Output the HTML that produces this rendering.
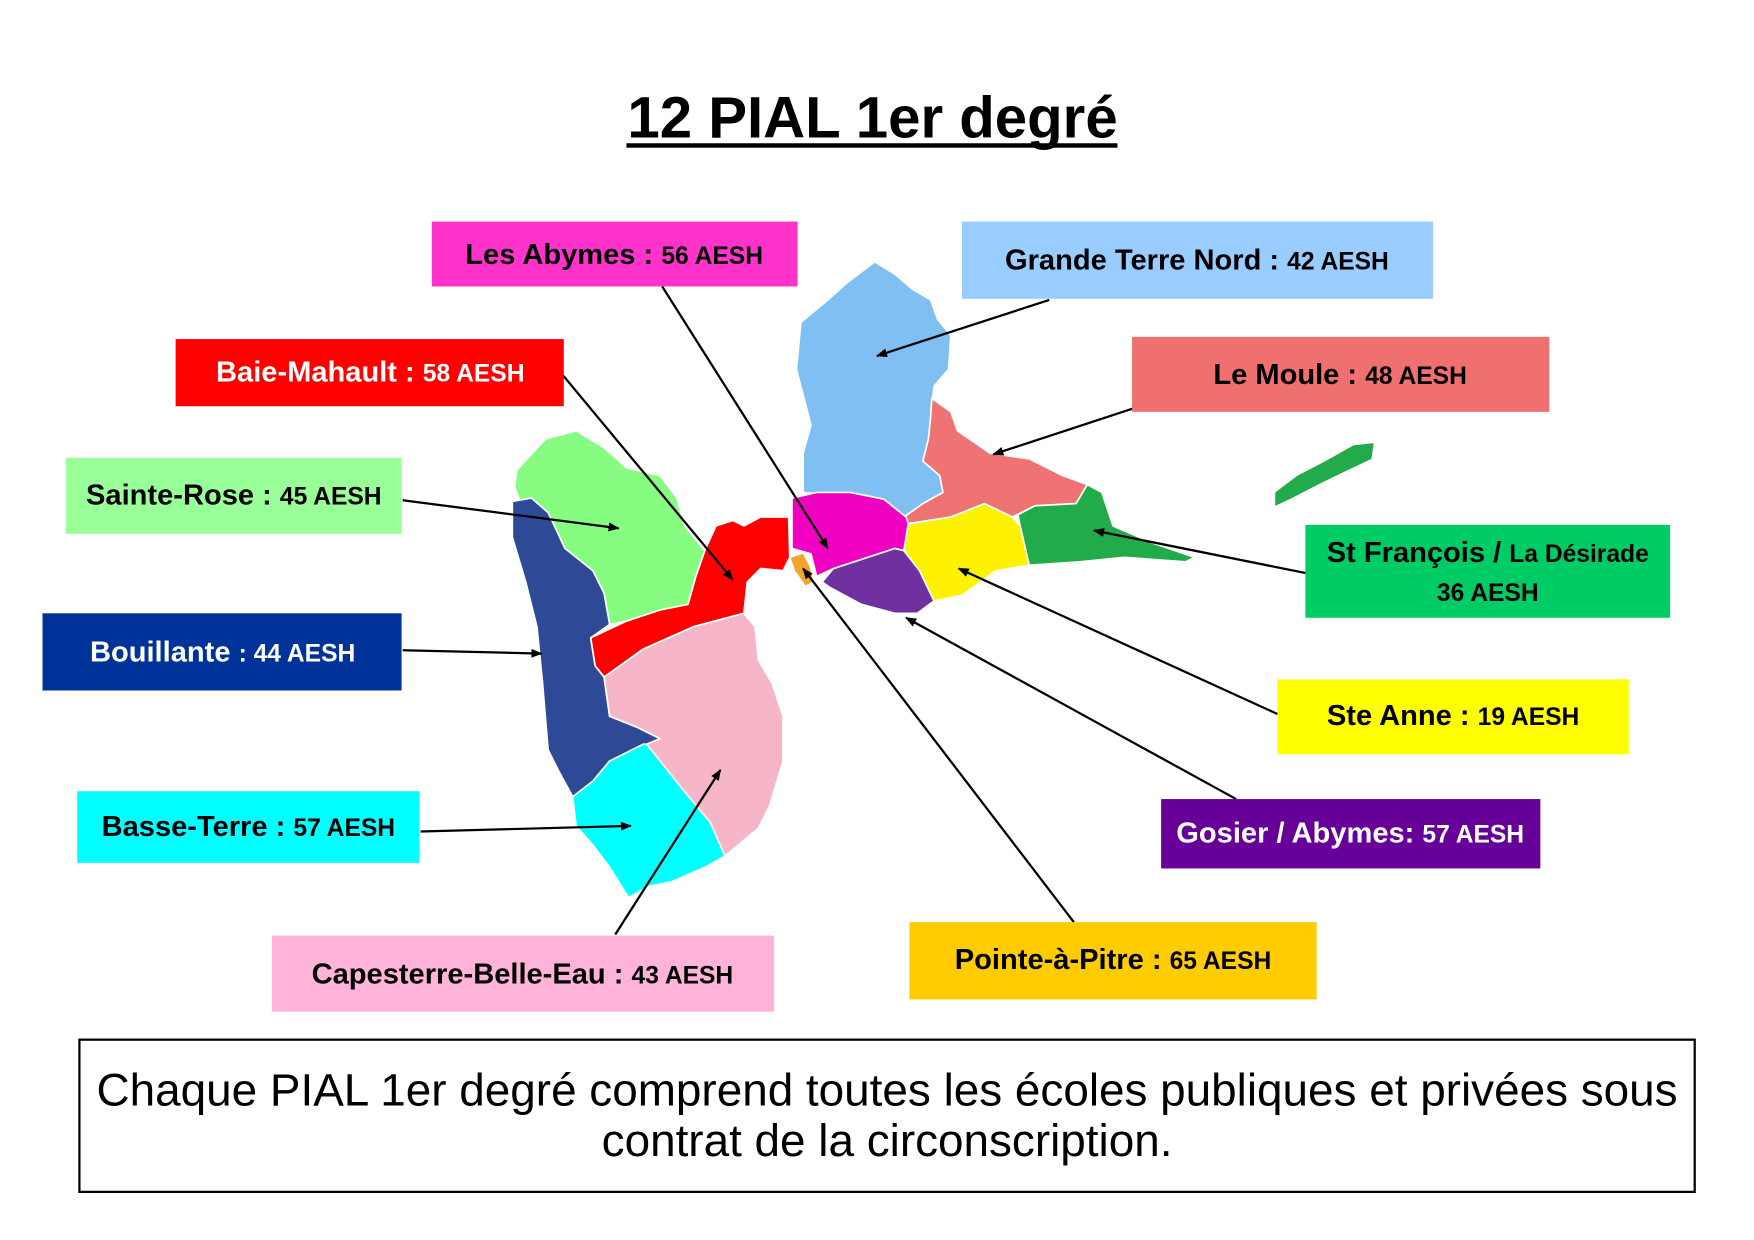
<!DOCTYPE html>
<html><head><meta charset="utf-8"><style>
html,body{margin:0;padding:0;background:#fff;}
svg{display:block}
text{font-family:"Liberation Sans",Arial,sans-serif;font-weight:bold;}
</style></head><body>
<svg width="1754" height="1240" viewBox="0 0 1568 1108" preserveAspectRatio="none" xmlns="http://www.w3.org/2000/svg">
<defs><marker id="a" markerWidth="10" markerHeight="8" refX="9" refY="4" orient="auto" markerUnits="userSpaceOnUse"><path d="M0,0 L10,4 L0,8 Z" fill="#000"/></marker></defs>
<rect width="1568" height="1108" fill="#fff"/>
<text x="780" y="123" text-anchor="middle" font-size="52" fill="#000">12 PIAL 1er degré</text>
<rect x="560" y="128" width="439" height="4" fill="#000"/>

<g stroke="#fff" stroke-width="1.5">
<path fill="#7fbff2" d="M782,234 L800,245 L815,258 L832,268 L838,285 L850,300 L848,330 L835,345 L832,372 L840,400 L843,440 L825,450 L810,462 L790,446 L760,440 L740,442 L718,440 L718,405 L725,380 L712,330 L716,288 L740,268 L758,252 Z"/>
<path fill="#ef7373" d="M833,356 L850,368 L856,385 L885,405 L920,410 L950,425 L972,433 L962,450 L925,452 L905,462 L880,450 L850,462 L812,468 L808,462 L825,450 L843,440 L840,425 L825,412 L830,392 L832,372 Z"/>
<path fill="#22ab4a" d="M972,433 L985,440 L995,470 L1030,485 L1068,498 L1060,502 L1005,498 L965,502 L920,505 L912,470 L910,460 L925,452 L962,450 Z"/>
<path fill="#fff200" d="M812,468 L850,462 L880,450 L905,462 L912,470 L920,505 L890,510 L860,532 L835,537 L822,510 L808,492 Z"/>
<path fill="#7030a0" d="M745,508 L800,490 L808,492 L822,510 L835,537 L820,548 L800,548 L770,540 L742,525 L735,520 Z"/>
<path fill="#f000c0" d="M708,445 L730,440 L760,440 L790,446 L810,462 L812,468 L808,492 L800,490 L745,508 L730,515 L725,495 L708,490 Z"/>
<path fill="#f4a42c" d="M706,498 L718,494 L724,505 L728,520 L720,524 L710,510 Z"/>
<path fill="#ff0000" d="M528,570 L560,555 L590,545 L615,540 L622,515 L630,492 L640,470 L655,465 L665,470 L680,462 L705,462 L706,498 L700,510 L680,508 L668,520 L665,548 L620,560 L575,580 L540,605 L532,595 Z"/>
<path fill="#86fc80" d="M462,420 L488,392 L515,385 L540,400 L560,418 L590,425 L605,445 L612,470 L630,492 L622,515 L615,540 L590,545 L560,555 L545,558 L540,530 L530,510 L505,490 L490,458 L465,448 L460,435 Z"/>
<path fill="#2e4a96" d="M458,448 L475,445 L490,458 L505,490 L530,510 L540,530 L545,558 L528,570 L532,595 L540,605 L545,640 L570,650 L590,660 L575,670 L545,680 L530,698 L512,712 L500,690 L490,670 L485,610 L480,560 L470,520 L458,480 Z"/>
<path fill="#f7b6c8" d="M540,605 L575,580 L620,560 L665,548 L675,560 L678,590 L690,610 L700,640 L700,680 L688,720 L678,740 L648,765 L635,735 L610,705 L590,680 L578,665 L590,660 L570,650 L545,640 Z"/>
<path fill="#00ffff" d="M512,712 L530,698 L545,680 L575,665 L578,665 L590,680 L610,705 L635,735 L648,765 L630,775 L600,788 L580,792 L562,802 L545,775 L530,755 L515,738 Z"/>
</g>
<path fill="#22ab4a" d="M1140,440 L1160,425 L1185,412 L1210,398 L1228,396 L1226,410 L1205,420 L1180,432 L1155,445 L1140,452 Z"/>

<g stroke="#000" stroke-width="2" fill="none" marker-end="url(#a)">
<line x1="592" y1="256" x2="740" y2="490"/>
<line x1="938" y1="268" x2="784" y2="318"/>
<line x1="1013" y1="365" x2="888" y2="406"/>
<line x1="503" y1="335" x2="655" y2="518"/>
<line x1="360" y1="447" x2="553" y2="472"/>
<line x1="1167" y1="512" x2="978" y2="474"/>
<line x1="360" y1="581" x2="484" y2="584"/>
<line x1="1142" y1="638" x2="857" y2="508"/>
<line x1="1105" y1="714" x2="810" y2="552"/>
<line x1="376" y1="743" x2="564" y2="738"/>
<line x1="960" y1="824" x2="718" y2="508"/>
<line x1="550" y1="835" x2="644" y2="688"/>
</g>

<rect x="386" y="198" width="327" height="58" fill="#ff33cc"/>
<text x="549" y="236" text-anchor="middle" font-size="26" fill="#000">Les Abymes : <tspan font-size="22">56 AESH</tspan></text>
<rect x="860" y="198" width="421" height="69" fill="#99ccff"/>
<text x="1070" y="241" text-anchor="middle" font-size="26" fill="#000">Grande Terre Nord : <tspan font-size="22">42 AESH</tspan></text>
<rect x="157" y="303" width="347" height="60" fill="#ff0000"/>
<text x="331" y="341" text-anchor="middle" font-size="26" fill="#fff">Baie-Mahault : <tspan font-size="22">58 AESH</tspan></text>
<rect x="1012" y="301" width="373" height="67" fill="#f07070"/>
<text x="1198" y="343" text-anchor="middle" font-size="26" fill="#000">Le Moule : <tspan font-size="22">48 AESH</tspan></text>
<rect x="59" y="409" width="300" height="68" fill="#99ff99"/>
<text x="209" y="451" text-anchor="middle" font-size="26" fill="#000">Sainte-Rose : <tspan font-size="22">45 AESH</tspan></text>
<rect x="1167" y="469" width="326" height="83" fill="#00cc66"/>
<text x="1330" y="502" text-anchor="middle" font-size="26" fill="#000">St François / <tspan font-size="22">La Désirade</tspan></text>
<text x="1330" y="537" text-anchor="middle" font-size="22" fill="#000">36 AESH</text>
<rect x="38" y="548" width="321" height="69" fill="#003399"/>
<text x="199" y="591" text-anchor="middle" font-size="26" fill="#fff">Bouillante <tspan font-size="22">: 44 AESH</tspan></text>
<rect x="1142" y="607" width="314" height="67" fill="#ffff00"/>
<text x="1299" y="648" text-anchor="middle" font-size="26" fill="#000">Ste Anne : <tspan font-size="22">19 AESH</tspan></text>
<rect x="69" y="707" width="306" height="64" fill="#00ffff"/>
<text x="222" y="747" text-anchor="middle" font-size="26" fill="#000">Basse-Terre : <tspan font-size="22">57 AESH</tspan></text>
<rect x="1038" y="714" width="339" height="62" fill="#660099"/>
<text x="1207" y="753" text-anchor="middle" font-size="26" fill="#fff">Gosier / Abymes: <tspan font-size="22">57 AESH</tspan></text>
<rect x="813" y="824" width="364" height="69" fill="#ffcc00"/>
<text x="995" y="866" text-anchor="middle" font-size="26" fill="#000">Pointe-à-Pitre : <tspan font-size="22">65 AESH</tspan></text>
<rect x="243" y="836" width="449" height="68" fill="#ffb3d9"/>
<text x="467" y="879" text-anchor="middle" font-size="26" fill="#000">Capesterre-Belle-Eau : <tspan font-size="22">43 AESH</tspan></text>

<rect x="71" y="929" width="1444" height="136" fill="#fff" stroke="#000" stroke-width="2"/>
<text x="793" y="988" text-anchor="middle" font-size="41" style="font-weight:normal" fill="#000">Chaque PIAL 1er degré comprend toutes les écoles publiques et privées sous</text>
<text x="793" y="1033" text-anchor="middle" font-size="41" style="font-weight:normal" fill="#000">contrat de la circonscription.</text>
</svg>
</body></html>
